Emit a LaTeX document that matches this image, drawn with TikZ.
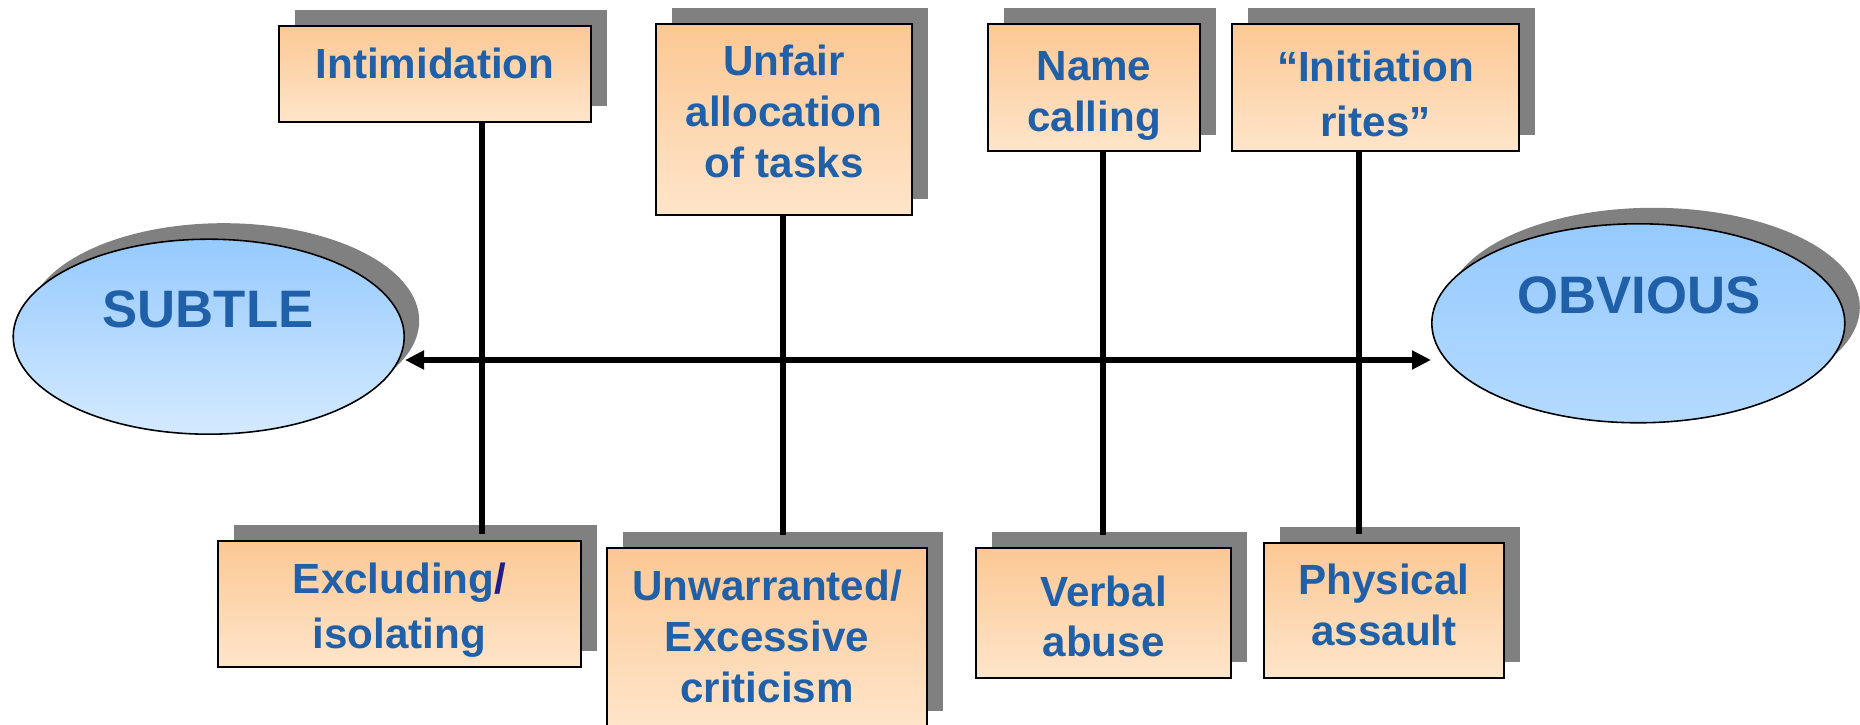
\documentclass[tikz,border=0pt]{standalone}
\usepackage{fontspec}
\setmainfont{Liberation Sans}
\usepackage{tikz}
\usetikzlibrary{shapes}
\usetikzlibrary{arrows.meta}
\usetikzlibrary{shadows}
\definecolor{boxtop}{RGB}{252,200,148}
\definecolor{boxbottom}{RGB}{254,229,202}
\definecolor{ovaltop}{RGB}{150,202,254}
\definecolor{ovalbottom}{RGB}{212,234,255}
\definecolor{ovalbottomb}{RGB}{180,218,255}
\definecolor{labelblue}{RGB}{32,96,168}
\definecolor{slashblue}{RGB}{30,30,140}
\definecolor{shadowgray}{RGB}{128,128,128}
\tikzstyle{block} = [rectangle, draw, line width=0.45pt, top color=boxtop, bottom color=boxbottom,
    general shadow={fill=shadowgray, shadow xshift=0.16cm, shadow yshift=0.16cm},
    align=center, text=labelblue, font=\fontsize{12}{14.5}\selectfont\bfseries,
    text depth=0pt, inner sep=0pt]
\tikzstyle{wide} = [font=\fontsize{12}{15.7}\selectfont\bfseries]
\tikzstyle{cloud} = [draw, ellipse, line width=0.45pt, top color=ovaltop, bottom color=ovalbottom,
    general shadow={fill=shadowgray, shadow xshift=0.15cm, shadow yshift=0.16cm}, inner sep=0pt]
\tikzstyle{title} = [text=labelblue, font=\fontsize{15}{18}\selectfont\bfseries]
\tikzstyle{line} = [draw, line width=1.6pt]

\begin{document}
\begin{tikzpicture}
    \useasboundingbox (0,0) rectangle (18.6,7.25);
    % Place nodes
    \node [cloud, minimum width=3.91cm, minimum height=1.95cm] (subtle) at (2.087,3.883) {};
    \node [title] (subtleText) at (2.08,4.16) {SUBTLE};
    \node [cloud, bottom color=ovalbottomb, minimum width=4.13cm, minimum height=1.99cm] (obvious) at (16.383,4.017) {};
    \node [title] (obviousText) at (16.39,4.30) {OBVIOUS};
    \node [block, minimum width=3.12cm, minimum height=0.96cm, text height=0.092cm] (intimidation) at (4.35,6.51) {Intimidation};
    \node [block, minimum width=2.56cm, minimum height=1.91cm, text height=1.156cm] (unfair) at (7.84,6.055) {Unfair\\allocation\\of tasks};
    \node [block, minimum width=2.12cm, minimum height=1.27cm, text height=0.878cm] (nameCalling) at (10.94,6.375) {Name\\calling};
    \node [block, wide, minimum width=2.87cm, minimum height=1.27cm, text height=0.99cm] (initiation) at (13.755,6.375) {“Initiation\\rites”};
    \node [block, wide, minimum width=3.63cm, minimum height=1.26cm, text height=0.886cm] (excluding) at (3.995,1.21) {Excluding{\color{slashblue}/}\\isolating};
    \node [block, minimum width=3.20cm, minimum height=1.79cm, text height=1.30cm] (unwarranted) at (7.67,0.875) {Unwarranted/\\Excessive\\criticism};
    \node [block, minimum width=2.55cm, minimum height=1.30cm, text height=0.88cm] (verbal) at (11.035,1.12) {Verbal\\abuse};
    \node [block, minimum width=2.40cm, minimum height=1.35cm, text height=0.708cm] (physical) at (13.84,1.145) {Physical\\assault};
    \coordinate (stemA) at (4.82,0);
    \coordinate (stemB) at (7.83,0);
    \coordinate (stemC) at (11.03,0);
    \coordinate (stemD) at (13.59,0);
    % Draw edges
    \draw [line, shorten >=0.06cm] (intimidation.south -| stemA) -- (excluding.north -| stemA);
    \draw [line, shorten >=0.12cm] (unfair.south -| stemB) -- (unwarranted.north -| stemB);
    \draw [line, shorten >=0.12cm] (nameCalling.south -| stemC) -- (verbal.north -| stemC);
    \draw [line, shorten >=0.08cm] (initiation.south -| stemD) -- (physical.north -| stemD);
    \draw [line, {Triangle[length=0.19cm,width=0.18cm]}-{Triangle[length=0.19cm,width=0.18cm]}] ([yshift=-0.233cm]subtle.east) -- ([yshift=-0.367cm]obvious.west);
\end{tikzpicture}
\end{document}
